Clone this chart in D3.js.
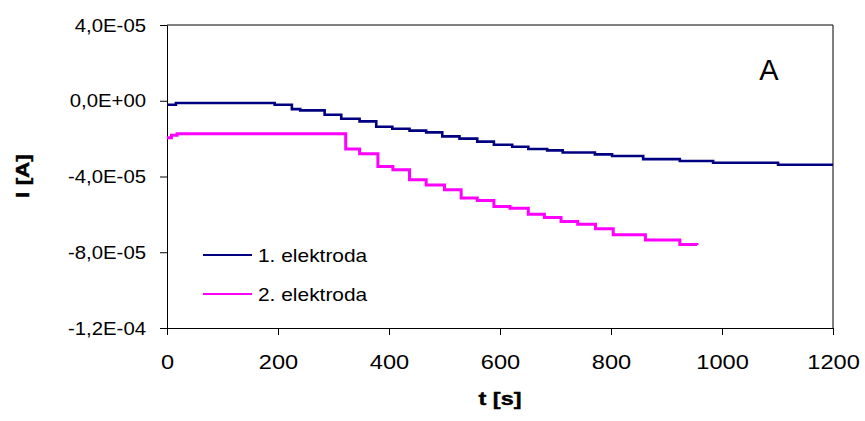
<!DOCTYPE html>
<html>
<head>
<meta charset="utf-8">
<script src="https://cdn.jsdelivr.net/npm/d3@7"></script>
<style>
  body { margin: 0; background: #fff; }
  svg text { font-family: "Liberation Sans", Arial, sans-serif; fill: #000; }
</style>
</head>
<body>
<svg id="chart" width="865" height="421"></svg>
<script>
// 1. elektroda (time in s, current in A)
const t1 = [0, 16, 194, 225, 240, 284, 314, 347, 377, 406, 437, 467, 496, 527, 559, 589, 622, 651, 685, 713, 771, 802, 858, 924, 984, 1101, 1200];
const i1 = [-2.1e-6, -1.2e-6, -2.1e-6, -4.4e-6, -5.1e-6, -7.4e-6, -9.5e-6, -1.09e-5, -1.37e-5, -1.48e-5, -1.58e-5, -1.67e-5, -1.88e-5, -2.0e-5, -2.16e-5, -2.32e-5, -2.43e-5, -2.55e-5, -2.62e-5, -2.73e-5, -2.83e-5, -2.92e-5, -3.08e-5, -3.18e-5, -3.27e-5, -3.38e-5, -3.38e-5];

// 2. elektroda
const t2 = [0, 8, 18, 318, 322, 347, 380, 407, 437, 467, 500, 530, 559, 589, 618, 651, 680, 710, 740, 772, 804, 862, 924, 955];
const i2 = [-1.95e-5, -1.82e-5, -1.74e-5, -1.74e-5, -2.55e-5, -2.80e-5, -3.47e-5, -3.64e-5, -4.17e-5, -4.45e-5, -4.70e-5, -5.14e-5, -5.27e-5, -5.58e-5, -5.67e-5, -5.99e-5, -6.16e-5, -6.38e-5, -6.52e-5, -6.76e-5, -7.08e-5, -7.35e-5, -7.59e-5, -7.62e-5];

const seriesNames = ["1. elektroda", "2. elektroda"];
const seriesColors = ["#000080", "#ff00ff"];
const xTicks = [0, 200, 400, 600, 800, 1000, 1200];
const yTicks = [-1.2e-4, -8e-5, -4e-5, 0, 4e-5];

const svg = d3.select("#chart");
const m = { left: 167, right: 833, top: 25, bottom: 328 };

const x = d3.scaleLinear().domain([0, 1200]).range([m.left, m.right]);
const y = d3.scaleLinear().domain([-1.2e-4, 4e-5]).range([m.bottom, m.top]);

// Excel style "4,0E-05"
function sci(v) {
  if (v === 0) return "0,0E+00";
  const e = Math.floor(Math.log10(Math.abs(v)) + 1e-9);
  const mant = v / Math.pow(10, e);
  return mant.toFixed(1).replace(".", ",") + "E" + (e < 0 ? "-" : "+") + String(Math.abs(e)).padStart(2, "0");
}

// stretch text horizontally (the source has wide glyphs)
function stretch(sel, k) {
  sel.each(function () {
    const w = this.getComputedTextLength();
    this.setAttribute("textLength", w * k);
    this.setAttribute("lengthAdjust", "spacingAndGlyphs");
  });
}

svg.append("rect").attr("width", 865).attr("height", 421).attr("fill", "#fff");

// frame top + right
svg.append("path")
  .attr("d", `M${m.left},${m.top}H${m.right}V${m.bottom}`)
  .attr("fill", "none").attr("stroke", "#000").attr("stroke-width", 1);

const yAxis = svg.append("g")
  .attr("transform", `translate(${m.left},0)`)
  .call(d3.axisLeft(y).tickValues(yTicks).tickFormat(sci).tickSize(7).tickSizeOuter(0).tickPadding(14));
yAxis.selectAll("text").style("font-size", "19px");
stretch(yAxis.selectAll("text"), 1.07);

const xAxis = svg.append("g")
  .attr("transform", `translate(0,${m.bottom})`)
  .call(d3.axisBottom(x).tickValues(xTicks).tickFormat(d3.format("d")).tickSize(7).tickSizeOuter(0).tickPadding(20));
xAxis.selectAll("text").style("font-size", "20px");
stretch(xAxis.selectAll("text"), 1.18);

svg.selectAll(".domain, .tick line").attr("stroke", "#000").attr("stroke-width", 1);

const line = d3.line().x(d => x(d[0])).y(d => y(d[1])).curve(d3.curveStepAfter);

const series = [d3.zip(t1, i1), d3.zip(t2, i2)];
svg.selectAll(".series")
  .data(series)
  .enter().append("path")
  .attr("class", "series")
  .attr("fill", "none")
  .attr("stroke", (d, i) => seriesColors[i])
  .attr("stroke-width", (d, i) => i === 0 ? 2.6 : 3)
  .attr("d", line);

// legend
const legend = svg.selectAll(".legend")
  .data(seriesNames)
  .enter().append("g")
  .attr("class", "legend")
  .attr("transform", (d, i) => `translate(203,${255 + i * 39})`);
legend.append("line")
  .attr("x1", 0).attr("x2", 49)
  .attr("stroke", (d, i) => seriesColors[i]).attr("stroke-width", 2);
const legText = legend.append("text")
  .attr("x", 55).attr("y", 6.5)
  .style("font-size", "19px")
  .text(d => d);
stretch(legText, 1.1);

// panel letter
svg.append("text").attr("x", 769).attr("y", 80)
  .attr("text-anchor", "middle").style("font-size", "29px").text("A");

// axis titles
const xt = svg.append("text").attr("x", 500).attr("y", 405)
  .attr("text-anchor", "middle").style("font-size", "18px").style("font-weight", "bold")
  .style("stroke", "#000").style("stroke-width", 0.4).text("t [s]");
stretch(xt, 1.3);
const yt = svg.append("text").attr("transform", "translate(29,176) rotate(-90)")
  .attr("text-anchor", "middle").style("font-size", "18px").style("font-weight", "bold")
  .style("stroke", "#000").style("stroke-width", 0.4).text("I [A]");
stretch(yt, 1.25);
</script>
</body>
</html>
